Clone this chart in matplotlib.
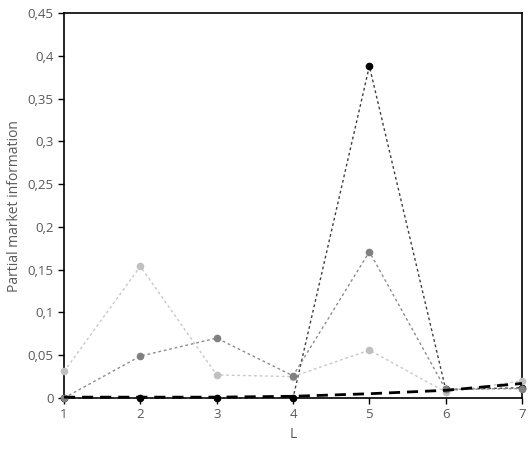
import matplotlib
matplotlib.use("Agg")
import matplotlib.pyplot as plt
from matplotlib.ticker import FuncFormatter

L = [1, 2, 3, 4, 5, 6, 7]
s_black = [0.0, 0.0, 0.0, 0.0, 0.388, 0.010, 0.012]
s_gray = [0.0, 0.049, 0.070, 0.026, 0.171, 0.010, 0.011]
s_light = [0.031, 0.154, 0.027, 0.025, 0.056, 0.007, 0.020]
s_dashed = [0.001, 0.001, 0.001, 0.002, 0.005, 0.009, 0.017]
yticks = [0, 0.05, 0.1, 0.15, 0.2, 0.25, 0.3, 0.35, 0.4, 0.45]

plt.rcParams['font.family'] = ['Open Sans', 'DejaVu Sans']
fig = plt.figure(figsize=(5.3, 4.53), dpi=100)
ax = fig.add_axes([0.1208, 0.1214, 0.8642, 0.8496])

ax.plot(L, s_black, linestyle=(0, (2, 2)), color='#404040', lw=1.0,
        marker='o', ms=4.5, mfc='black', mec='black', zorder=2, clip_on=False)
ax.plot(L, s_light, linestyle=(0, (2, 2)), color='#c8c8c8', lw=1.0,
        marker='o', ms=4.5, mfc='#c0c0c0', mec='#c0c0c0', zorder=3, clip_on=False)
ax.plot(L, s_gray, linestyle=(0, (2, 2)), color='#8c8c8c', lw=1.0,
        marker='o', ms=4.5, mfc='#808080', mec='#808080', zorder=4, clip_on=False)
ax.plot(L, s_dashed, linestyle=(0, (4, 2.5)), color='black', lw=2.0, zorder=5, clip_on=False)

ax.set_xlim(1, 7)
ax.set_ylim(0, 0.45)
ax.set_xticks(L)
ax.set_yticks(yticks)
ax.yaxis.set_major_formatter(FuncFormatter(lambda v, p: ('%g' % round(v, 2)).replace('.', ',')))
for sp in ax.spines.values():
    sp.set_color('#000000')
    sp.set_linewidth(1.2)
    sp.set_zorder(1)
ax.tick_params(direction='out', length=4, width=1, colors='black', labelcolor='#595959', labelsize=9.5)
ax.set_xlabel('L', color='#595959', fontsize=10)
ax.set_ylabel('Partial market information', color='#595959', fontsize=10)
fig.savefig('out.png', dpi=100)
